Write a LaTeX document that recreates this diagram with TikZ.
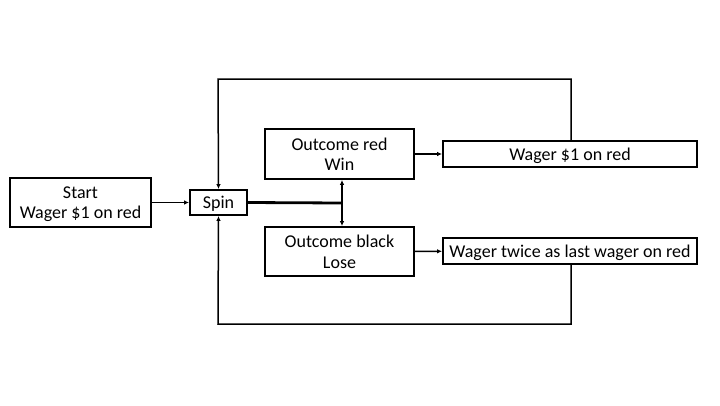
\documentclass[tikz,border=0pt]{standalone}
\usepackage{fontspec}
\setmainfont{Carlito}
\usetikzlibrary{arrows.meta}
\begin{document}
\begin{tikzpicture}[x=1pt,y=-1pt,
  box/.style={draw,line width=1.8pt,inner sep=0pt,align=center,text depth=0pt,font=\fontsize{18}{20.5}\selectfont},
  conn/.style={line width=1.5pt},
  tip/.tip={Latex[length=5pt,width=4.5pt]},
  arr/.style={conn,-tip}]
\useasboundingbox (0,0) rectangle (720,405);
\node[box,minimum width=141pt,minimum height=49pt] (start) at (80.5,202.5) {Start\\Wager \$1 on red};
\node[box,minimum width=57pt,minimum height=25pt] (spin) at (218.5,202.5) {Spin};
\node[box,minimum width=149pt,minimum height=50pt] (ored) at (339.5,154) {Outcome red\\Win};
\node[box,minimum width=149pt,minimum height=49pt] (oblack) at (339.5,251.5) {Outcome black\\Lose};
\node[box,minimum width=254pt,minimum height=26pt] (w1) at (570,154) {Wager \$1 on red};
\node[box,minimum width=254pt,minimum height=26pt] (w2) at (570,251) {Wager twice as last wager on red};
\coordinate (j) at (342,203);
\draw[arr] (start) -- (spin);
\draw[line width=2.8pt] (spin.east) -- (j);
\draw[conn,tip-tip] (ored.south -| j) -- (oblack.north -| j);
\draw[arr] (ored) -- (w1);
\draw[arr] (oblack) -- (w2);
\draw[arr] (w1.north -| 571,0) |- (218,79) -- (spin.north);
\draw[arr] (w2.south -| 571,0) |- (218,324) -- (spin.south);
\end{tikzpicture}
\end{document}
